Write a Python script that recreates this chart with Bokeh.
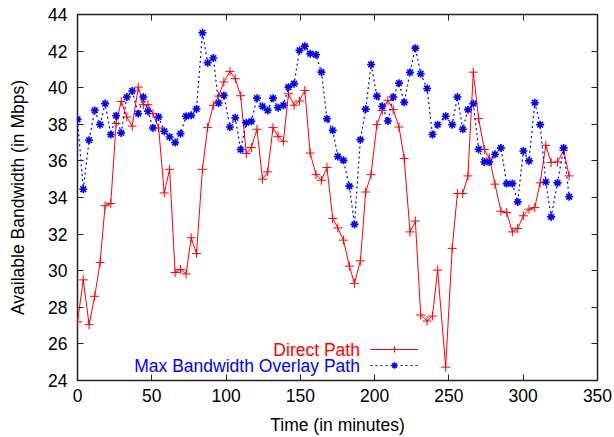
from bokeh.plotting import figure
from bokeh.models import (Range1d, LinearAxis, FixedTicker, Label, Legend, LegendItem)
from bokeh.embed import file_html
from bokeh.resources import INLINE

# ---- data ----
time_min = [0, 3.9, 7.8, 11.6, 15.2, 18.6, 22.4, 26, 29.4, 33.2, 36.8, 40.9, 44.3, 47.4,
            50.8, 54.6, 58.4, 62, 65.7, 69.3, 73.1, 76.5, 80.1, 84.1, 87.6, 91.4, 95.0,
            98.5, 102.6, 106.2, 109.8, 113.6, 117, 120.8, 124.5, 128, 131.6, 135, 138.6,
            142, 145.8, 149.4, 153, 156.6, 160.5, 164.2, 167.9, 171.8, 175.2, 179, 183,
            186.4, 190.4, 194, 197.6, 201.5, 205.1, 208.9, 212.5, 216.4, 219.9, 223.8,
            227.4, 231, 235.3, 238.9, 242.4, 247.8, 252.2, 255.7, 259.3, 262.8, 266.4,
            270, 273.8, 277.2, 281, 285, 288.9, 292.7, 296.3, 300.1, 303.9, 307.8, 311.4,
            315.2, 318.8, 323.1, 327.2, 330.9]

direct_path = [27.2, 29.5, 27.05, 28.6, 30.45, 33.55, 33.67, 38.05, 39.25, 38.4, 37.9, 40.03,
               39.07, 39.07, 38.58, 37.8, 34.25, 35.54, 29.9, 30.07, 29.82, 31.8, 30.94,
               35.54, 37.82, 39.04, 39.54, 40.31, 40.89, 40.49, 39.56, 36.4, 36.73, 37.73,
               35.0, 35.4, 37.82, 37.34, 37.07, 39.67, 39.04, 39.27, 39.85, 36.43, 35.25,
               34.94, 35.64, 32.85, 32.34, 31.67, 30.25, 29.31, 30.54, 34.3, 35.25, 37.98,
               38.76, 39.31, 38.8, 37.85, 36.13, 32.12, 32.71, 27.58, 27.25, 27.52, 30.03,
               24.73, 31.22, 34.22, 34.22, 35.18, 40.85, 38.31, 36.62, 36.16, 34.73, 33.25,
               33.18, 32.12, 32.31, 33.0, 33.36, 33.45, 34.8, 36.85, 35.91, 35.94, 36.58,
               35.18]

overlay_path = [38.27, 34.45, 37.13, 38.76, 37.98, 39.13, 37.44, 38.47, 37.53, 39.49, 39.82,
                38.58, 39.49, 38.71, 37.8, 38.4, 37.62, 37.31, 37.0, 37.49, 38.44, 38.49,
                38.84, 43.0, 41.36, 41.62, 39.16, 39.58, 37.85, 38.36, 36.62, 38.09, 38.16,
                39.43, 38.98, 38.76, 39.43, 38.91, 39.04, 40.03, 40.22, 42.04, 42.27, 41.86,
                41.8, 40.85, 38.3, 37.67, 36.24, 36.03, 34.62, 32.53, 37.16, 38.83, 41.27,
                39.54, 38.98, 38.18, 39.49, 40.25, 39.2, 40.84, 42.16, 40.76, 39.96, 37.44,
                37.98, 38.44, 37.98, 39.49, 37.73, 38.8, 39.13, 36.64, 35.94, 35.94, 36.36,
                36.71, 34.76, 34.76, 33.76, 36.54, 36.0, 39.18, 37.98, 34.85, 32.94, 34.8,
                36.71, 34.04]

x_ticks = [0, 50, 100, 150, 200, 250, 300, 350]
y_ticks = [24, 26, 28, 30, 32, 34, 36, 38, 40, 42, 44]
series_names = ["Direct Path", "Max Bandwidth Overlay Path"]
x_title = "Time (in minutes)"
y_title = "Available Bandwidth (in Mbps)"

FONT = "Liberation Sans"
FS = "17.5px"

p = figure(width=614, height=437, output_backend="svg", toolbar_location=None,
           x_range=Range1d(0, 350), y_range=Range1d(24, 44),
           min_border_left=77, min_border_right=17, min_border_top=14, min_border_bottom=56)
p.xgrid.visible = False
p.ygrid.visible = False
p.outline_line_color = "#222222"
p.outline_line_width = 1.5
p.background_fill_color = "white"
p.border_fill_color = "white"

for ax in (p.xaxis[0], p.yaxis[0]):
    ax.major_tick_in = 6
    ax.major_tick_out = 0
    ax.minor_tick_line_color = None
    ax.axis_line_color = None
    ax.major_tick_line_color = "#222222"
    ax.major_label_text_font = FONT
    ax.major_label_text_font_size = FS
    ax.major_label_text_color = "black"
    ax.axis_label_text_font = FONT
    ax.axis_label_text_font_size = FS
    ax.axis_label_text_font_style = "normal"
    ax.axis_label_text_color = "black"

p.xaxis[0].ticker = FixedTicker(ticks=x_ticks)
p.yaxis[0].ticker = FixedTicker(ticks=y_ticks)
p.xaxis[0].axis_label = x_title
p.yaxis[0].axis_label = y_title
p.xaxis[0].major_label_standoff = 8
p.yaxis[0].major_label_standoff = 10
p.xaxis[0].axis_label_standoff = 10
p.yaxis[0].axis_label_standoff = 17

# mirrored ticks on top and right (tick marks only, no labels drawn)
for loc, tk in (("above", x_ticks), ("right", y_ticks)):
    ax = LinearAxis(ticker=FixedTicker(ticks=tk))
    ax.major_tick_in = 6
    ax.major_tick_out = 0
    ax.minor_tick_line_color = None
    ax.axis_line_color = None
    ax.major_tick_line_color = "#222222"
    ax.major_label_text_color = None
    ax.major_label_text_font_size = "1px"
    ax.major_label_standoff = 0
    p.add_layout(ax, loc)

# series
r_line = p.line(time_min, direct_path, line_color="#ff0000", line_width=1)
r_pts = p.scatter(time_min, direct_path, marker="cross", size=9, line_color="#ff0000",
                  line_width=1)
b_line = p.line(time_min, overlay_path, line_color="#0000ff", line_width=1.2,
                line_dash="2 3")
b_pts = p.scatter(time_min, overlay_path, marker="asterisk", size=8, line_color="#0000ff",
                  line_width=1.6)

# legend keys (gnuplot style: text right-aligned, key sample on the right)
leg = Legend(items=[LegendItem(label=" ", renderers=[r_line, r_pts]),
                    LegendItem(label=" ", renderers=[b_line, b_pts])],
             location=(293, 7), glyph_width=48, glyph_height=16, label_width=0,
             label_height=16, label_standoff=0, spacing=0, padding=0, margin=0,
             border_line_color=None, background_fill_alpha=0,
             label_text_color=None, label_text_font_size="1px")
p.add_layout(leg, "center")

p.add_layout(Label(x=190.1, y=25.67, text=series_names[0], text_align="right",
                   text_baseline="middle", text_color="#ff0000", text_font=FONT,
                   text_font_size=FS))
p.add_layout(Label(x=190.1, y=24.8, text=series_names[1], text_align="right",
                   text_baseline="middle", text_color="#0000ff", text_font=FONT,
                   text_font_size=FS))

open("out.html", "w").write(file_html(p, INLINE))
